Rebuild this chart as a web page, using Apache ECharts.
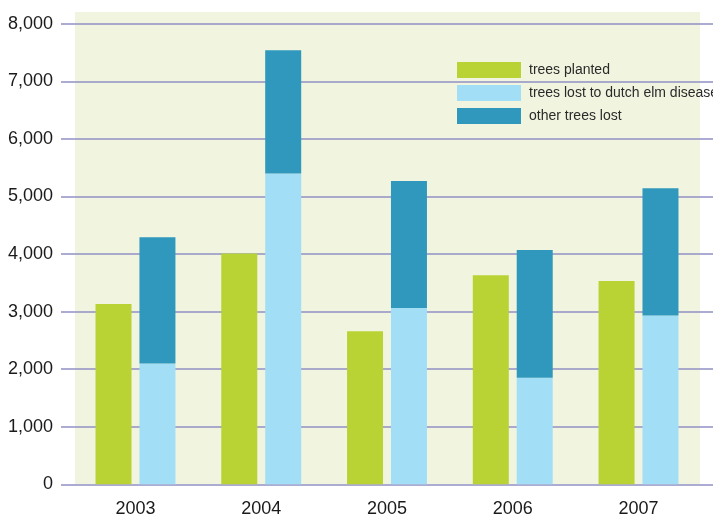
<!DOCTYPE html>
<html>
<head>
<meta charset="utf-8">
<script src="https://cdn.jsdelivr.net/npm/echarts@6/dist/echarts.min.js"></script>
<style>
  html, body { margin: 0; padding: 0; background: #ffffff; }
  #chart { width: 713px; height: 521px; }
</style>
</head>
<body>
<div id="chart"></div>
<script>
// Yearly tree figures
const years = ['2003', '2004', '2005', '2006', '2007'];
const treesPlanted = [3130, 4010, 2660, 3630, 3530];
const lostDutchElm = [2100, 5400, 3060, 1850, 2930];
const otherLost = [2190, 2140, 2210, 2220, 2210];
const yTicks = [0, 1000, 2000, 3000, 4000, 5000, 6000, 7000, 8000];

const FONT = '"Liberation Sans", Arial, sans-serif';
const GRID_TOP = 23.7;
const GRID_BOTTOM = 36.7;

const chart = echarts.init(document.getElementById('chart'), null, { renderer: 'canvas' });

const yMin = yTicks[0];
const yMax = yTicks[yTicks.length - 1];
const yStep = yTicks[1] - yTicks[0];

chart.setOption({
  animation: false,
  backgroundColor: '#ffffff',
  graphic: [{
    type: 'rect',
    z: -1,
    shape: { x: 75, y: 12, width: 625, height: 472.3 },
    style: { fill: '#f1f5df' },
    silent: true
  }],
  legend: {
    orient: 'vertical',
    left: 457,
    top: 62,
    padding: 0,
    itemWidth: 64,
    itemHeight: 16,
    itemGap: 7,
    icon: 'rect',
    textStyle: { fontFamily: FONT, fontSize: 14, color: '#2a2a2a', padding: [0, 0, 0, 3] },
    data: ['trees planted', 'trees lost to dutch elm disease', 'other trees lost']
  },
  grid: [
    // full-width grid carrying the value labels and horizontal rules
    { left: 61, right: 0, top: GRID_TOP, bottom: GRID_BOTTOM },
    // grid carrying the bars
    { left: 72.6, right: 11.6, top: GRID_TOP, bottom: GRID_BOTTOM }
  ],
  xAxis: [
    { gridIndex: 0, type: 'value', show: false, min: 0, max: 1 },
    {
      gridIndex: 1,
      type: 'category',
      data: years,
      axisLine: { show: false },
      axisTick: { show: false },
      axisLabel: { fontFamily: FONT, fontSize: 18, color: '#1a1a1a', margin: 16 }
    }
  ],
  yAxis: [
    {
      gridIndex: 0,
      type: 'value',
      min: yMin,
      max: yMax,
      interval: yStep,
      axisLine: { show: false },
      axisTick: { show: false },
      splitLine: { lineStyle: { color: '#9090c4', width: 1.7 } },
      axisLabel: {
        fontFamily: FONT,
        fontSize: 18,
        color: '#1a1a1a',
        margin: 8,
        padding: [0, 0, 7, 0],
        formatter: v => v.toLocaleString('en-US')
      }
    },
    {
      gridIndex: 1,
      type: 'value',
      min: yMin,
      max: yMax,
      interval: yStep,
      show: false
    }
  ],
  series: [
    {
      name: 'trees planted',
      type: 'bar',
      xAxisIndex: 1,
      yAxisIndex: 1,
      data: treesPlanted,
      barWidth: 36,
      barGap: '22%',
      itemStyle: { color: '#b9d334' }
    },
    {
      name: 'trees lost to dutch elm disease',
      type: 'bar',
      stack: 'lost',
      xAxisIndex: 1,
      yAxisIndex: 1,
      data: lostDutchElm,
      barWidth: 36,
      itemStyle: { color: '#a2dff6' }
    },
    {
      name: 'other trees lost',
      type: 'bar',
      stack: 'lost',
      xAxisIndex: 1,
      yAxisIndex: 1,
      data: otherLost,
      barWidth: 36,
      itemStyle: { color: '#2f98bc' }
    }
  ]
});
</script>
</body>
</html>
